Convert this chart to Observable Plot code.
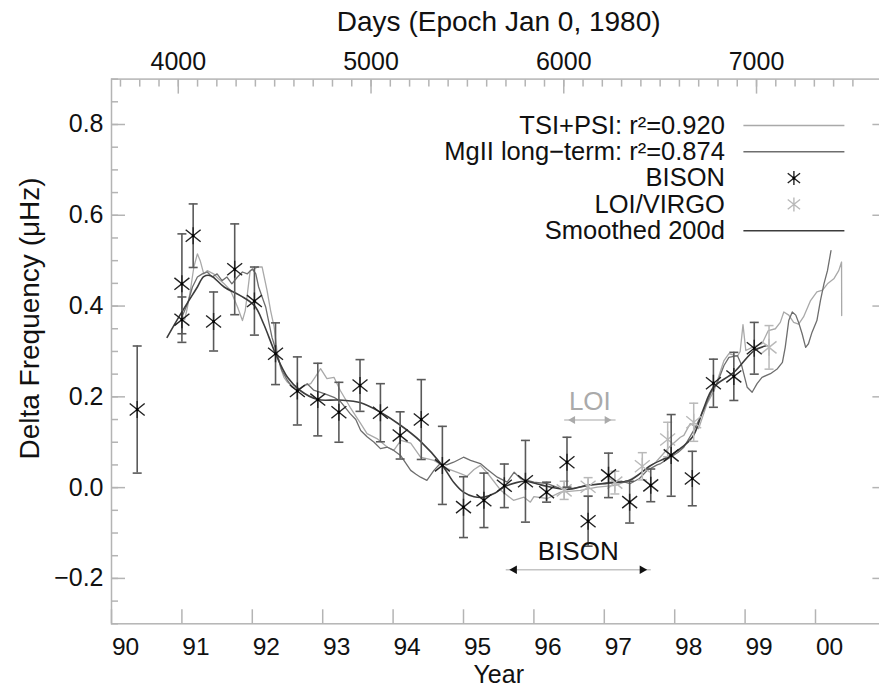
<!DOCTYPE html>
<html>
<head>
<meta charset="utf-8">
<script src="https://cdn.jsdelivr.net/npm/d3@7"></script>
<script src="https://cdn.jsdelivr.net/npm/@observablehq/plot@0.6"></script>
<style>
  html, body { margin: 0; padding: 0; background: #fff; }
  #chart svg { display: block; }
</style>
</head>
<body>
<div id="chart"></div>
<script>
// ---------- data ----------
const bisonYear = [1990.365, 1991.00, 1991.00, 1991.16, 1991.45, 1991.75, 1992.03, 1992.33, 1992.64, 1992.93,
  1993.23, 1993.53, 1993.82, 1994.10, 1994.40, 1994.70, 1995.00, 1995.29, 1995.58, 1995.88,
  1996.18, 1996.47, 1996.77, 1997.06, 1997.36, 1997.66, 1997.95, 1998.25, 1998.55, 1998.84, 1999.13];
const bisonVal = [0.172, 0.449, 0.370, 0.555, 0.366, 0.481, 0.411, 0.295, 0.213, 0.194,
  0.166, 0.225, 0.165, 0.115, 0.150, 0.049, -0.043, -0.028, 0.004, 0.014,
  -0.010, 0.056, -0.074, 0.027, -0.032, 0.005, 0.071, 0.020, 0.230, 0.245, 0.307];
const bisonErr = [0.14, 0.11, 0.05, 0.07, 0.065, 0.10, 0.075, 0.068, 0.075, 0.08,
  0.066, 0.057, 0.064, 0.052, 0.088, 0.086, 0.067, 0.06, 0.048, 0.09,
  0.022, 0.055, 0.055, 0.049, 0.046, 0.036, 0.09, 0.06, 0.053, 0.053, 0.057];

const loiYear = [1996.43, 1996.77, 1997.15, 1997.54, 1997.90, 1998.27, 1999.34];
const loiVal  = [-0.006, 0.002, 0.011, 0.047, 0.106, 0.144, 0.309];
const loiErr  = [0.02, 0.02, 0.025, 0.03, 0.038, 0.042, 0.048];

// TSI+PSI proxy (light grey)
const tsiPsi = [
  [1991.00,0.380],[1991.04,0.370],[1991.08,0.398],[1991.12,0.434],[1991.17,0.486],[1991.22,0.515],
  [1991.26,0.500],[1991.31,0.471],[1991.36,0.478],[1991.45,0.471],[1991.52,0.460],[1991.60,0.449],
  [1991.69,0.435],[1991.79,0.398],[1991.86,0.368],[1991.90,0.390],[1991.93,0.427],[1991.97,0.478],
  [1992.02,0.480],[1992.07,0.486],[1992.14,0.486],[1992.16,0.471],[1992.21,0.434],[1992.26,0.390],
  [1992.31,0.354],[1992.35,0.302],[1992.40,0.265],[1992.45,0.243],[1992.50,0.232],[1992.59,0.221],
  [1992.68,0.218],[1992.75,0.225],[1992.83,0.229],[1992.90,0.245],[1992.97,0.262],[1993.06,0.240],
  [1993.16,0.243],[1993.25,0.214],[1993.39,0.177],[1993.54,0.141],[1993.63,0.119],[1993.77,0.108],
  [1993.92,0.089],[1994.01,0.082],[1994.11,0.104],[1994.25,0.098],[1994.39,0.067],[1994.58,0.060],
  [1994.77,0.042],[1994.96,0.031],[1995.05,0.025],[1995.15,0.040],[1995.24,0.049],[1995.35,0.030],
  [1995.53,-0.006],[1995.71,-0.028],[1995.86,-0.021],[1995.95,-0.032],[1996.00,-0.020],[1996.19,-0.024],
  [1996.38,-0.010],[1996.66,-0.006],[1996.90,0.001],[1997.16,0.005],[1997.35,0.016],[1997.54,0.034],
  [1997.73,0.056],[1997.92,0.089],[1998.08,0.111],[1998.13,0.115],[1998.22,0.141],[1998.34,0.130],
  [1998.46,0.185],[1998.56,0.214],[1998.70,0.280],[1998.77,0.295],[1998.89,0.289],[1998.93,0.300],
  [1998.97,0.359],[1999.01,0.302],[1999.10,0.309],[1999.24,0.317],[1999.33,0.346],[1999.43,0.350],
  [1999.50,0.364],[1999.55,0.387],[1999.62,0.380],[1999.69,0.364],[1999.76,0.360],[1999.83,0.376],
  [1999.93,0.412],[2000.02,0.431],[2000.10,0.435],[2000.17,0.449],[2000.26,0.460],[2000.33,0.478],
  [2000.37,0.497],[2000.372,0.379]
];

// MgII long-term proxy (mid grey)
const mgII = [
  [1991.00,0.376],[1991.08,0.405],[1991.15,0.442],[1991.22,0.464],[1991.29,0.471],[1991.36,0.475],
  [1991.43,0.464],[1991.50,0.471],[1991.57,0.456],[1991.64,0.464],[1991.71,0.449],[1991.79,0.464],
  [1991.86,0.475],[1991.93,0.471],[1992.00,0.482],[1992.05,0.471],[1992.09,0.442],[1992.14,0.420],
  [1992.19,0.398],[1992.23,0.368],[1992.28,0.331],[1992.35,0.295],[1992.42,0.258],[1992.50,0.236],
  [1992.57,0.221],[1992.64,0.214],[1992.71,0.222],[1992.78,0.229],[1992.87,0.215],[1992.97,0.210],
  [1993.06,0.205],[1993.16,0.199],[1993.25,0.190],[1993.39,0.163],[1993.47,0.150],[1993.54,0.126],
  [1993.63,0.112],[1993.73,0.100],[1993.82,0.086],[1993.92,0.089],[1994.01,0.082],[1994.11,0.070],
  [1994.25,0.038],[1994.32,0.030],[1994.39,0.023],[1994.48,0.016],[1994.58,0.038],[1994.67,0.053],
  [1994.76,0.050],[1994.86,0.056],[1995.00,0.067],[1995.10,0.060],[1995.24,0.053],[1995.34,0.040],
  [1995.48,0.023],[1995.62,0.012],[1995.72,0.034],[1995.81,0.020],[1996.00,0.012],[1996.19,0.009],
  [1996.38,-0.002],[1996.57,-0.001],[1996.76,0.005],[1996.95,0.009],[1997.10,0.012],[1997.25,0.014],
  [1997.37,0.009],[1997.50,0.020],[1997.61,0.038],[1997.75,0.050],[1997.80,0.053],[1997.94,0.067],
  [1998.05,0.078],[1998.13,0.089],[1998.27,0.126],[1998.41,0.170],[1998.53,0.214],[1998.60,0.229],
  [1998.70,0.269],[1998.77,0.287],[1998.89,0.291],[1998.95,0.270],[1999.03,0.221],[1999.10,0.210],
  [1999.17,0.229],[1999.24,0.243],[1999.36,0.251],[1999.46,0.262],[1999.53,0.276],[1999.57,0.309],
  [1999.62,0.368],[1999.67,0.387],[1999.72,0.380],[1999.76,0.364],[1999.81,0.339],[1999.86,0.309],
  [1999.90,0.317],[1999.95,0.342],[2000.02,0.368],[2000.07,0.412],[2000.12,0.449],[2000.17,0.478],
  [2000.22,0.522]
];

// Smoothed 200d (dark)
const smoothed = [
  [1990.79,0.331],[1991.00,0.387],[1991.22,0.442],[1991.31,0.465],[1991.41,0.467],[1991.60,0.442],
  [1991.83,0.423],[1992.03,0.401],[1992.16,0.361],[1992.33,0.295],[1992.50,0.243],[1992.68,0.214],
  [1992.93,0.194],[1993.23,0.193],[1993.54,0.187],[1993.82,0.166],[1994.10,0.138],[1994.39,0.102],
  [1994.70,0.049],[1994.86,0.012],[1995.00,-0.010],[1995.15,-0.020],[1995.29,-0.021],[1995.45,-0.012],
  [1995.57,0.001],[1995.75,0.011],[1995.885,0.014],[1996.05,0.008],[1996.18,0.003],[1996.47,-0.004],
  [1996.76,0.005],[1997.06,0.010],[1997.36,0.016],[1997.66,0.049],[1997.95,0.072],[1998.25,0.111],
  [1998.40,0.170],[1998.55,0.221],[1998.84,0.254],[1999.13,0.302],[1999.31,0.313]
];

// annotation ranges
const rangeLabels = ["BISON", "LOI"];
const rangeStart  = [1995.60, 1996.43];
const rangeEnd    = [1997.66, 1997.16];
const rangeLevel  = [-0.181, 0.149];

// axes
const yearTicks = [1990, 1991, 1992, 1993, 1994, 1995, 1996, 1997, 1998, 1999, 2000];
const yMajor = [-0.2, 0.0, 0.2, 0.4, 0.6, 0.8];
const dayMajor = [4000, 5000, 6000, 7000];

// legend
const legendLabels = ["TSI+PSI: r\u00B2=0.920", "MgII long\u2212term: r\u00B2=0.874", "BISON", "LOI/VIRGO", "Smoothed 200d"];
const legendKinds  = ["line", "line", "star", "star", "line"];

// ---------- styling / helpers ----------
const font = "'Liberation Sans', Arial, Helvetica, sans-serif";
const axisColor = "#b4b4b4";
const colTSI = "#a9a9a9", colMg = "#6e6e6e", colSm = "#3c3c3c";
const colBison = "#222", colBisonErr = "#5a5a5a", colLoi = "#b9b9b9";
const legendColors = [colTSI, colMg, colBison, colLoi, colSm];

const dayToYear = d => 1980 + (d - 1) / 365.25;
const yearToDay = y => (y - 1980) * 365.25 + 1;
const yMinor = d3.range(-6, 19).map(i => +(i * 0.05).toFixed(2));
const dayMinor = d3.range(3700, 7600, 100);

const bison = bisonYear.map((x, i) => ({x, v: bisonVal[i], e: bisonErr[i]}));
const loi = loiYear.map((x, i) => ({x, v: loiVal[i], e: loiErr[i]}));
const ranges = rangeLabels.map((label, i) => ({label, a: rangeStart[i], b: rangeEnd[i], y: rangeLevel[i]}));

const starSym = {
  draw(ctx, size) {
    const r = Math.sqrt(size / Math.PI), d = r * 0.88;
    ctx.moveTo(0, -r); ctx.lineTo(0, r);
    ctx.moveTo(-d, -d * 0.8); ctx.lineTo(d, d * 0.8);
    ctx.moveTo(-d, d * 0.8); ctx.lineTo(d, -d * 0.8);
  }
};
const hLine = {
  draw(ctx, size) {
    const r = Math.sqrt(size / Math.PI);
    ctx.moveTo(-r, 0); ctx.lineTo(r, 0);
  }
};
const fmtY = v => (v < 0 ? "\u2212" : "") + Math.abs(v).toFixed(1);
const fmtYear = y => String(Math.round(y) % 100).padStart(2, "0");

const legendTop = 46.4, legendStep = 26.3;
const legendMarks = legendLabels.flatMap((label, i) => {
  const dy = legendTop + i * legendStep;
  const marks = [Plot.text([label], {frameAnchor: "top-right", dx: -161, dy, textAnchor: "end", lineAnchor: "middle", fontSize: 25.5, fill: "#111"})];
  if (legendKinds[i] === "line") {
    marks.push(Plot.dot([label], {frameAnchor: "top-right", dx: -92, dy, symbol: hLine, r: 50.5, stroke: legendColors[i], strokeWidth: 1.4}));
  } else {
    marks.push(Plot.dot([label], {frameAnchor: "top-right", dx: -92, dy, symbol: starSym, r: 7, stroke: legendColors[i], strokeWidth: 1.4}));
    if (i === 2) marks.push(Plot.dot([label], {frameAnchor: "top-right", dx: -92, dy, symbol: "square", r: 1.5, fill: "#000"}));
  }
  return marks;
});

const chart = Plot.plot({
  width: 879,
  height: 687,
  marginLeft: 111,
  marginRight: -6.4,
  marginTop: 78.6,
  marginBottom: 63.7,
  style: {fontFamily: font, fontSize: "25px", color: "#111", background: "#fff"},
  x: {domain: [1990, 2001], label: null},
  y: {domain: [-0.3, 0.9], label: null},
  marks: [
    Plot.frame({stroke: axisColor, strokeWidth: 1.5}),
    // left axis
    Plot.axisY(yMinor, {anchor: "left", tickSize: -7, stroke: axisColor, strokeWidth: 1.5, tickFormat: () => "", label: null}),
    Plot.axisY(yMajor, {anchor: "left", tickSize: -14, tickPadding: 22, stroke: axisColor, strokeWidth: 1.5, tickFormat: fmtY, fill: "#111", label: null}),
    // right axis (ticks only)
    Plot.axisY(yMinor, {anchor: "right", tickSize: -7, stroke: axisColor, strokeWidth: 1.5, tickFormat: () => "", label: null}),
    Plot.axisY(yMajor, {anchor: "right", tickSize: -14, stroke: axisColor, strokeWidth: 1.5, tickFormat: () => "", label: null}),
    // bottom axis (years): ticks, then labels set just right of each tick
    Plot.axisX(yearTicks, {anchor: "bottom", tickSize: -14, stroke: axisColor, strokeWidth: 1.5, tickFormat: () => "", label: null}),
    Plot.axisX(yearTicks, {anchor: "bottom", tickSize: -14, tickPadding: 28, dx: 14, stroke: "none", tickFormat: fmtYear, fontSize: 24.5, fill: "#111", label: null}),
    // top axis (days)
    Plot.axisX(dayMinor.map(dayToYear), {anchor: "top", tickSize: -7, stroke: axisColor, strokeWidth: 1.5, tickFormat: () => "", label: null}),
    Plot.axisX(dayMajor.map(dayToYear), {anchor: "top", tickSize: -14, tickPadding: 23.5, stroke: axisColor, strokeWidth: 1.5, tickFormat: y => String(Math.round(yearToDay(y))), fill: "#111", label: null}),
    // axis titles
    Plot.text(["Days (Epoch Jan 0, 1980)"], {frameAnchor: "top", lineAnchor: "middle", textAnchor: "middle", dy: -56.6, fontSize: 28, fill: "#111"}),
    Plot.text(["Year"], {frameAnchor: "bottom", lineAnchor: "middle", textAnchor: "middle", dy: 51, fontSize: 25, fill: "#111"}),
    Plot.text(["Delta Frequency (\u03BCHz)"], {frameAnchor: "left", textAnchor: "middle", lineAnchor: "middle", rotate: -90, dx: -81, dy: -33, fontSize: 28, fill: "#111"}),
    // proxy curves
    Plot.line(tsiPsi, {x: d => d[0], y: d => d[1], stroke: colTSI, strokeWidth: 1.3}),
    Plot.line(mgII, {x: d => d[0], y: d => d[1], stroke: colMg, strokeWidth: 1.3}),
    Plot.line(smoothed, {x: d => d[0], y: d => d[1], stroke: colSm, strokeWidth: 1.6, curve: "catmull-rom"}),
    // LOI/VIRGO
    Plot.ruleX(loi, {x: "x", y1: d => d.v - d.e, y2: d => d.v + d.e, stroke: colLoi, strokeWidth: 1.5}),
    Plot.dot(loi, {x: "x", y: d => d.v + d.e, symbol: hLine, r: 4.5, stroke: colLoi, strokeWidth: 1.5}),
    Plot.dot(loi, {x: "x", y: d => d.v - d.e, symbol: hLine, r: 4.5, stroke: colLoi, strokeWidth: 1.5}),
    Plot.dot(loi, {x: "x", y: "v", symbol: starSym, r: 8.5, stroke: colLoi, strokeWidth: 1.4}),
    // BISON
    Plot.ruleX(bison, {x: "x", y1: d => d.v - d.e, y2: d => d.v + d.e, stroke: colBisonErr, strokeWidth: 1.6}),
    Plot.dot(bison, {x: "x", y: d => d.v + d.e, symbol: hLine, r: 4.5, stroke: colBisonErr, strokeWidth: 1.6}),
    Plot.dot(bison, {x: "x", y: d => d.v - d.e, symbol: hLine, r: 4.5, stroke: colBisonErr, strokeWidth: 1.6}),
    Plot.dot(bison, {x: "x", y: "v", symbol: starSym, r: 8.5, stroke: colBison, strokeWidth: 1.4}),
    Plot.dot(bison, {x: "x", y: "v", symbol: "square", r: 1.5, fill: "#000"}),
    // range annotations
    Plot.link(ranges, {x1: "a", x2: "b", y1: "y", y2: "y", stroke: "#c4c4c4", strokeWidth: 1.6}),
    Plot.dot(ranges, {x: "a", y: "y", symbol: "triangle", rotate: -90, dx: 8.6, r: d => d.label === "BISON" ? 5.6 : 4.6, fill: d => d.label === "BISON" ? "#111" : "#aaaaaa"}),
    Plot.dot(ranges, {x: "b", y: "y", symbol: "triangle", rotate: 90, dx: -8.6, r: d => d.label === "BISON" ? 5.6 : 4.6, fill: d => d.label === "BISON" ? "#111" : "#aaaaaa"}),
    Plot.text(ranges, {x: d => (d.a + d.b) / 2, y: "y", text: "label", dy: -18, fontSize: 26, fill: d => d.label === "BISON" ? "#111" : "#aaaaaa"}),
    // legend
    ...legendMarks
  ]
});

document.getElementById("chart").append(chart);
</script>
</body>
</html>
